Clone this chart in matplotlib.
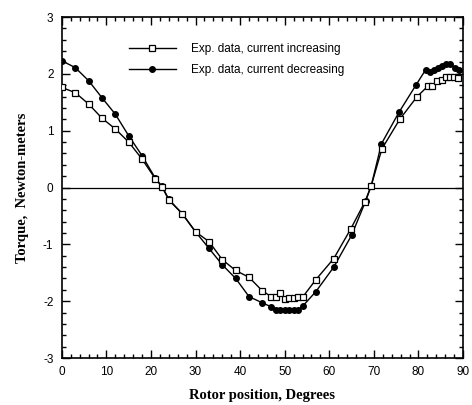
import matplotlib
matplotlib.use("Agg")
import matplotlib.pyplot as plt
from matplotlib.ticker import MultipleLocator

plt.rcParams['axes.unicode_minus'] = False

# rotor position (degrees) and torque (N-m)
inc_x = [0, 3, 6, 9, 12, 15, 18, 21, 22.5, 24, 27, 30, 33, 36, 39, 42, 45, 47, 48,
         49, 50, 51, 52, 53, 54, 57, 61, 64.8, 68, 69.4, 71.8, 75.8, 79.7, 82.2,
         83.1, 84.2, 85.2, 86.1, 87, 87.9, 88.9]
inc_y = [1.76, 1.67, 1.47, 1.22, 1.03, 0.80, 0.50, 0.15, 0.01, -0.22, -0.46, -0.78,
         -0.95, -1.27, -1.46, -1.58, -1.82, -1.92, -1.92, -1.85, -1.97, -1.95, -1.94,
         -1.93, -1.93, -1.62, -1.25, -0.73, -0.25, 0.03, 0.68, 1.20, 1.60, 1.79,
         1.79, 1.88, 1.89, 1.94, 1.95, 1.95, 1.93]

dec_x = [0, 3, 6, 9, 12, 15, 18, 21, 22.5, 24, 27, 30, 33, 36, 39, 42, 45, 47, 48,
         49, 50, 51, 52, 53, 54, 57, 61, 65, 68.2, 69.4, 71.7, 75.6, 79.5, 81.6,
         82.5, 83.4, 84.4, 85.3, 86.2, 87.1, 88.1, 89.1]
dec_y = [2.23, 2.11, 1.88, 1.58, 1.29, 0.91, 0.56, 0.16, 0.02, -0.21, -0.46, -0.78,
         -1.07, -1.36, -1.60, -1.92, -2.03, -2.10, -2.15, -2.15, -2.15, -2.15, -2.15,
         -2.15, -2.09, -1.83, -1.40, -0.84, -0.23, 0.03, 0.77, 1.32, 1.81, 2.07,
         2.03, 2.06, 2.10, 2.13, 2.17, 2.18, 2.11, 2.07]

fig = plt.figure(figsize=(4.72, 4.05), dpi=100)
ax = fig.add_axes([0.131, 0.116, 0.850, 0.842])

ax.axhline(0, color='black', lw=0.9, zorder=1)
ax.plot(inc_x, inc_y, '-s', color='black', lw=1.0, ms=4.5, mfc='white',
        mec='black', mew=0.9, label='Exp. data, current increasing', zorder=3)
ax.plot(dec_x, dec_y, '-o', color='black', lw=1.0, ms=4, mfc='black',
        mec='black', label='Exp. data, current decreasing', zorder=2)

ax.set_xlim(0, 90)
ax.set_ylim(-3, 3)
ax.xaxis.set_major_locator(MultipleLocator(10))
ax.xaxis.set_minor_locator(MultipleLocator(2))
ax.yaxis.set_major_locator(MultipleLocator(1))
ax.yaxis.set_minor_locator(MultipleLocator(0.2))
ax.tick_params(which='both', direction='in', top=True, right=True, width=1.0)
ax.tick_params(which='major', length=6, labelsize=8.5, pad=6)
ax.tick_params(which='minor', length=3)
for lab in ax.get_xticklabels() + ax.get_yticklabels():
    lab.set_family('Liberation Sans')
for s in ax.spines.values():
    s.set_linewidth(1.2)

ax.set_xlabel('Rotor position, Degrees', family='Liberation Serif',
              fontweight='bold', fontsize=10.5, labelpad=8)
ax.set_ylabel('Torque,  Newton-meters', family='Liberation Serif',
              fontweight='bold', fontsize=10.5, labelpad=10)

ax.legend(loc='upper left', bbox_to_anchor=(0.14, 0.955), frameon=False,
          prop={'family': 'Liberation Sans', 'size': 8.5}, handlelength=4.0,
          handletextpad=1.3, labelspacing=0.75)

fig.savefig('out.png', dpi=100)
